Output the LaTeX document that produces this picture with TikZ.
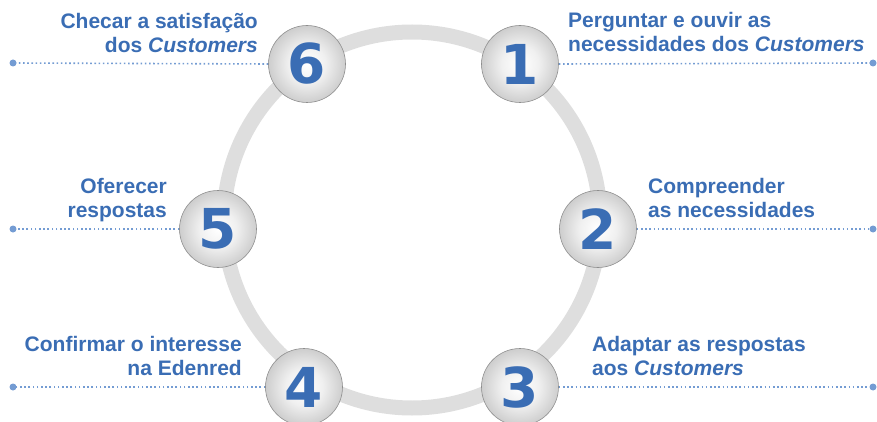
\documentclass[tikz,border=0pt]{standalone}
\usepackage{fontspec}
\setmainfont{Liberation Sans}
\newfontfamily\digitfont{DejaVu Sans}
\definecolor{tblue}{HTML}{3A6DB4}
\definecolor{dblue}{HTML}{749CD3}
\definecolor{ringgray}{HTML}{DEDEDE}
\definecolor{ballA}{HTML}{FFFFFF}
\definecolor{ballB}{HTML}{F0F0F0}
\definecolor{ballC}{HTML}{B0B0B0}
\definecolor{ballD}{HTML}{8E8E8E}
\pgfdeclareradialshading{ball}{\pgfpoint{0bp}{0bp}}{color(0bp)=(ballA); color(12bp)=(ballB); color(36bp)=(ballC); color(50bp)=(ballD)}
\tikzset{
  ballnode/.style={circle, minimum size=77pt, inner sep=0pt, shading=ball, draw=ballD, line width=0.6pt,
    font=\digitfont\bfseries\fontsize{55}{55}\selectfont, text=tblue},
  lab/.style={font=\bfseries\fontsize{21}{24}\selectfont, text=tblue, inner sep=0pt},
  dotline/.style={dblue, line width=1.6pt, dash pattern=on 1.6pt off 2.6pt},
}
\begin{document}
\begin{tikzpicture}[x=1pt,y=-1pt]
\useasboundingbox (0,0) rectangle (877,422);
\draw[ringgray, line width=15pt] (412,220) circle (188pt);
\coordinate (e1) at (873,63);
\coordinate (e2) at (873,229);
\coordinate (e3) at (873,387);
\coordinate (e4) at (13,387);
\coordinate (e5) at (13,229);
\coordinate (e6) at (13,63);
\node[ballnode] (c1) at (520,64) {1};
\node[ballnode] (c2) at (598,229) {2};
\node[ballnode] (c3) at (520,387) {3};
\node[ballnode] (c4) at (304,387) {4};
\node[ballnode] (c5) at (218,229) {5};
\node[ballnode] (c6) at (307,64) {6};
\draw[dotline] (c1.east) -- (e1);
\draw[dotline] (c2.east) -- (e2);
\draw[dotline] (c3.east) -- (e3);
\draw[dotline] (c4.west) -- (e4);
\draw[dotline] (c5.west) -- (e5);
\draw[dotline] (c6.west) -- (e6);
\foreach \e in {e1,e2,e3,e4,e5,e6} \fill[dblue] (\e) circle (3.5pt);
\node[lab, anchor=base west, align=left] (t1) at (568,52) {Perguntar e ouvir as\\necessidades dos \textit{Customers}};
\node[lab, anchor=base west, align=left] (t2) at (648,217) {Compreender\\as necessidades};
\node[lab, anchor=base west, align=left] (t3) at (592,375) {Adaptar as respostas\\aos \textit{Customers}};
\node[lab, anchor=base east, align=right] (t4) at (242,375) {Confirmar o interesse\\na Edenred};
\node[lab, anchor=base east, align=right] (t5) at (167,217) {Oferecer\\respostas};
\node[lab, anchor=base east, align=right] (t6) at (258,53) {Checar a satisfação\\dos \textit{Customers}};
\end{tikzpicture}
\end{document}
